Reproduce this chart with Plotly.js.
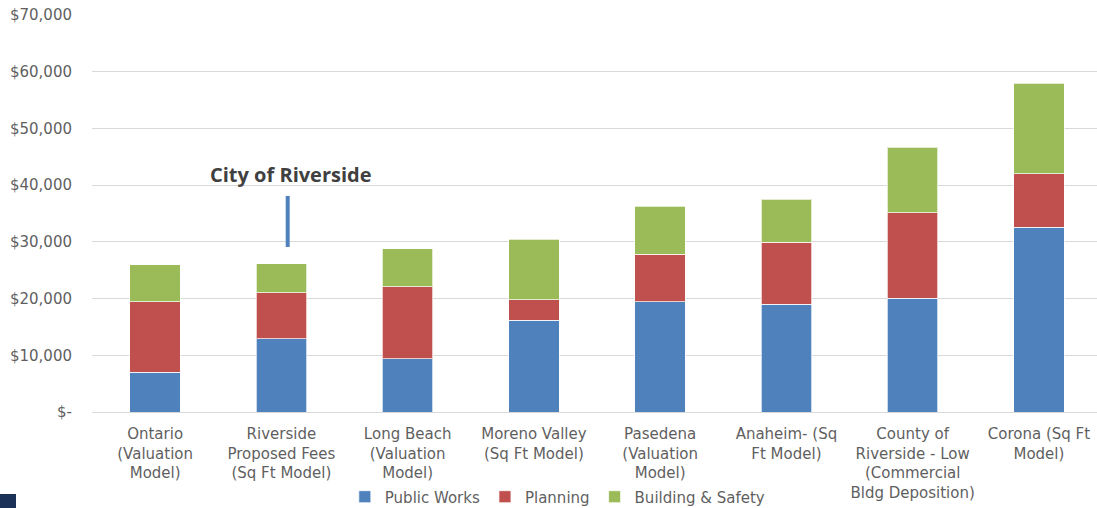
<!DOCTYPE html>
<html><head><meta charset="utf-8">
<script src="https://cdn.plot.ly/plotly-3.0.1.min.js"></script>
<style>html,body{margin:0;padding:0;background:#fff;}#chart{width:1097px;height:508px;}</style>
</head><body><div id="chart"></div>
<script>
const categories = [
  "Ontario<br>(Valuation<br>Model)",
  "Riverside<br>Proposed Fees<br>(Sq Ft Model)",
  "Long Beach<br>(Valuation<br>Model)",
  "Moreno Valley<br>(Sq Ft Model)",
  "Pasedena<br>(Valuation<br>Model)",
  "Anaheim- (Sq<br>Ft Model)",
  "County of<br>Riverside - Low<br>(Commercial<br>Bldg Deposition)",
  "Corona (Sq Ft<br>Model)"
];
const publicWorks = [7000, 12900, 9400, 16200, 19400, 19000, 20100, 32600];
const planning    = [12400, 8100, 12700, 3600, 8400, 10900, 15000, 9400];
const buildingSafety = [6600, 5100, 6700, 10700, 8500, 7600, 11600, 16000];
const yTickVals = [0, 10000, 20000, 30000, 40000, 50000, 60000, 70000];
const yTickText = ["$-", "$10,000", "$20,000", "$30,000", "$40,000", "$50,000", "$60,000", "$70,000"];

const FONT = "DejaVu Sans, sans-serif";
const GREY = "#5f5f5f";
const lineStyle = {color: "rgba(255,255,255,0.7)", width: 1};

const traces = [
  {type: "bar", name: "Public Works", x: categories, y: publicWorks, marker: {color: "#4F81BD", line: lineStyle}},
  {type: "bar", name: "Planning", x: categories, y: planning, marker: {color: "#C0504D", line: lineStyle}},
  {type: "bar", name: "Building & Safety", x: categories, y: buildingSafety, marker: {color: "#9BBB59", line: lineStyle}}
];

const layout = {
  width: 1097, height: 508,
  margin: {l: 92, r: 0, t: 15, b: 96, autoexpand: false},
  barmode: "stack",
  bargap: 0.6,
  paper_bgcolor: "#fff", plot_bgcolor: "#fff",
  font: {family: FONT, size: 15, color: GREY},
  showlegend: true,
  legend: {orientation: "h", x: 0.463, xanchor: "center", y: -0.214, yanchor: "middle",
           font: {family: FONT, size: 15, color: GREY}, traceorder: "normal", itemwidth: 30,
           tracegroupgap: 0, bgcolor: "rgba(0,0,0,0)"},
  xaxis: {type: "category", range: [-0.5, 7.46], showgrid: false, zeroline: false, showline: false, automargin: false,
          ticks: "", tickangle: 0, ticklabelstandoff: 11, tickfont: {family: FONT, size: 15, color: GREY}, fixedrange: true},
  yaxis: {range: [0, 70000], tickvals: yTickVals, ticktext: yTickText, showgrid: true, gridcolor: "#D9D9D9", gridwidth: 1,
          zeroline: true, zerolinecolor: "#D9D9D9", zerolinewidth: 1, showline: false, ticks: "", automargin: false,
          ticklabelstandoff: 19, tickfont: {family: FONT, size: 15, color: GREY}, fixedrange: true},
  annotations: [
    {x: 1.08, y: 41900, xref: "x", yref: "y", text: "<b>City of Riverside</b>", showarrow: false,
     font: {family: "Open Sans, sans-serif", size: 20, color: "#404040"}, xanchor: "center", yanchor: "middle"}
  ],
  shapes: [
    {type: "line", xref: "x", yref: "y", x0: 1.05, x1: 1.05, y0: 29100, y1: 38100, line: {color: "#4F81BD", width: 4}},
    {type: "rect", xref: "paper", yref: "paper", x0: -92/1005, x1: -76/1005, y0: -96/397, y1: -82/397,
     fillcolor: "#1B3158", line: {width: 0}}
  ]
};

Plotly.newPlot("chart", traces, layout, {displayModeBar: false, staticPlot: true});
</script></body></html>
